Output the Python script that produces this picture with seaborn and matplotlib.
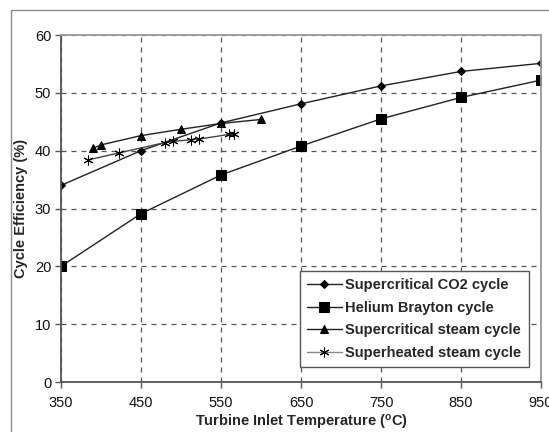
import pandas as pd
import seaborn as sns
import matplotlib.pyplot as plt
from matplotlib.patches import Rectangle

# data
co2_t = [350, 450, 550, 650, 750, 850, 950]
co2_eff = [34.0, 40.0, 44.8, 48.1, 51.2, 53.7, 55.1]

he_t = [350, 450, 550, 650, 750, 850, 950]
he_eff = [20.0, 29.1, 35.8, 40.8, 45.5, 49.2, 52.2]

sc_steam_t = [390, 400, 450, 500, 550, 600]
sc_steam_eff = [40.4, 41.0, 42.6, 43.7, 44.7, 45.4]

sh_steam_t = [384, 422, 480, 490, 512, 522, 560, 566]
sh_steam_eff = [38.4, 39.6, 41.4, 41.6, 41.9, 42.0, 42.8, 42.8]

names = ["Supercritical CO2 cycle", "Helium Brayton cycle",
         "Supercritical steam cycle", "Superheated steam cycle"]

sns.set_style("white")
plt.rcParams["font.family"] = ["Liberation Sans", "DejaVu Sans"]

fig = plt.figure(figsize=(5.49, 4.32), dpi=100)
# outer chart frame
fig.patches.append(Rectangle((11 / 549, -0.1), 1.2, (432 - 10) / 432 + 0.1,
                             transform=fig.transFigure, fill=False,
                             edgecolor="#8a8a8a", linewidth=1.0))
ax = fig.add_axes([61 / 549, (432 - 382) / 432, (541 - 61) / 549, (382 - 35) / 432])

series = [
    (co2_t, co2_eff, "D", 4, "#222222"),
    (he_t, he_eff, "s", 6.5, "#222222"),
    (sc_steam_t, sc_steam_eff, "^", 6, "#222222"),
    (sh_steam_t, sh_steam_eff, (6, 2, 0), 7, "#444444"),
]
for (t, e, m, ms, c), name in zip(series, names):
    sns.lineplot(x=t, y=e, ax=ax, marker=m, markersize=ms, color=c,
                 markeredgecolor="black", markerfacecolor="black",
                 linewidth=1.0, label=name, sort=False)

ax.set_xlim(350, 950)
ax.set_ylim(0, 60)
ax.set_xticks(range(350, 951, 100))
ax.set_yticks(range(0, 61, 10))
ax.grid(True, linestyle=(0, (4, 4)), color="#555555", linewidth=0.9)
ax.tick_params(axis="both", labelsize=10.5, length=4, color="#555555",
               direction="out", width=1, labelcolor="#111111")
ax.tick_params(axis="y", pad=3)
ax.tick_params(axis="x", pad=6)
ax.tick_params(left=True, bottom=True)
for s in ["left", "bottom"]:
    ax.spines[s].set_color("#555555")
    ax.spines[s].set_linewidth(1.3)
for s in ["top", "right"]:
    ax.spines[s].set_color("#999999")
    ax.spines[s].set_linewidth(1.3)

ax.set_xlabel("Turbine Inlet Temperature ($\\mathregular{^{o}}$C)",
              fontsize=10.5, fontweight="bold", labelpad=2)
ax.set_ylabel("Cycle Efficiency (%)", fontsize=10.5, fontweight="bold", labelpad=5)

leg = ax.legend(loc="lower right", bbox_to_anchor=(0.99, 0.022), frameon=True,
                fancybox=False, edgecolor="#555555", framealpha=1,
                prop={"weight": "bold", "size": 10.5}, handlelength=2.4,
                handletextpad=0.25, borderpad=0.5, labelspacing=0.58)
leg.get_frame().set_linewidth(1.0)
leg.get_lines()[3].set_color("#888888")

fig.savefig("out.png", dpi=100)
